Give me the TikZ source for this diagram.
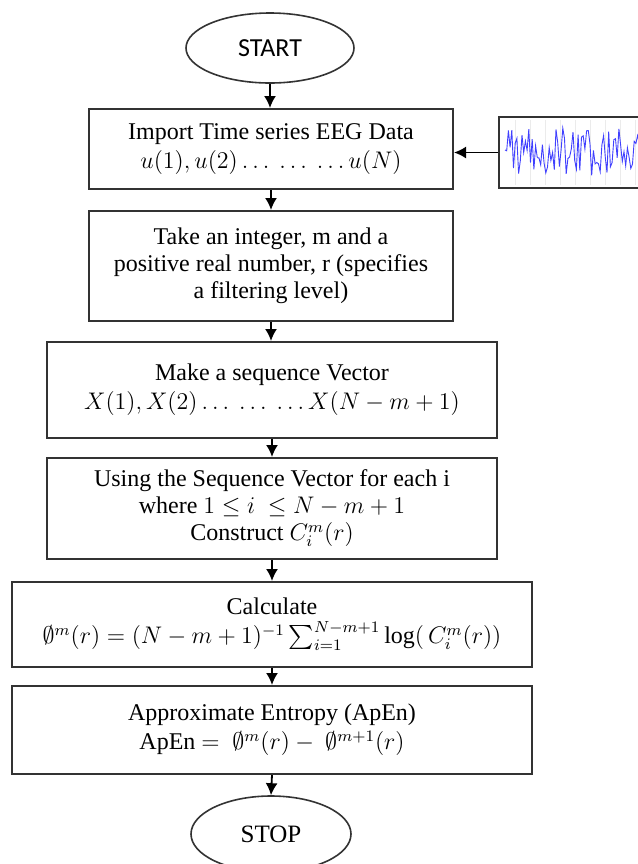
\documentclass[tikz,border=0pt]{standalone}
\usepackage{amsmath,amssymb}
\usepackage{fontspec}
\setmainfont{Liberation Serif}
\newfontfamily\calib{Carlito}
\usetikzlibrary{arrows.meta,shapes.geometric}
\begin{document}
\begin{tikzpicture}[x=0.5pt,y=-0.5pt,
  flowbox/.style={draw=black!80, line width=1pt, rectangle, align=center,
    font=\fontsize{12}{13.5}\selectfont, inner sep=0pt},
  term/.style={draw=black!80, line width=0.8pt, ellipse, inner sep=0pt},
  flowarrow/.style={draw=black, line width=0.9pt, -{Latex[length=6pt,width=6pt]}}]
\useasboundingbox (0,0) rectangle (638,864);
\clip (0,0) rectangle (638,864);
\fill[white] (0,0) rectangle (638,864);

\node[term, minimum width=84pt, minimum height=35pt, font=\calib\fontsize{13}{15}\selectfont] (start) at (270,48) {START};

\node[flowbox, minimum width=182pt, minimum height=40pt] (b1) at (271,149)
  {Import Time series EEG Data\\[1pt] $u(1), u(2) \dots\ \dots\ \dots u(N)$};

\node[draw=black!80, line width=1pt, rectangle, minimum width=73pt, minimum height=35.5pt, inner sep=0pt] (eeg) at (572,152.5) {};
\begin{scope}
\clip (499,117) rectangle (645,188);
\foreach \gx in {515,530,...,640} {\draw[black!8, line width=0.3pt] (\gx,120) -- (\gx,185);}
\pgfmathsetseed{5}
\draw[blue!75, line width=0.45pt] (505,150) \foreach \i in {1,...,80} { -- ({505+1.7*\i},{152+24*rand}) };
\end{scope}

\node[flowbox, minimum width=182pt, minimum height=55pt] (b2) at (271,266)
  {Take an integer, m and a\\ positive real number, r (specifies\\ a filtering level)};

\node[flowbox, minimum width=225pt, minimum height=48pt] (b3) at (272,390)
  {Make a sequence Vector\\[1pt] $X(1), X(2) \dots\ \dots\ \dots X(N-m+1)$};

\node[flowbox, minimum width=225pt, minimum height=50.5pt] (b4) at (272,508.5)
  {Using the Sequence Vector for each i\\ where $1 \le i\ \le N-m+1$\\ Construct $C_i^m(r)$};

\node[flowbox, minimum width=260pt, minimum height=42.5pt] (b5) at (272,624.5)
  {Calculate\\[1pt] $\emptyset^m(r) = (N-m+1)^{-1}\sum_{i=1}^{N-m+1}\log(\,C_i^m(r))$};

\node[flowbox, minimum width=260pt, minimum height=44pt] (b6) at (272,730)
  {Approximate Entropy (ApEn)\\[1pt] ApEn $=\ \emptyset^m(r) -\ \emptyset^{m+1}(r)$};

\node[term, minimum width=80pt, minimum height=38pt, font=\fontsize{12.5}{14}\selectfont] (stop) at (271,834) {STOP};

\draw[flowarrow] (start.south) -- (start.south |- b1.north);
\draw[flowarrow] (eeg.west) -- (eeg.west -| b1.east);
\draw[flowarrow] (b1.south) -- (b2.north);
\draw[flowarrow] (b2.south) -- (b2.south |- b3.north);
\draw[flowarrow] (b3.south) -- (b4.north);
\draw[flowarrow] (b4.south) -- (b4.south |- b5.north);
\draw[flowarrow] (b5.south) -- (b6.north);
\draw[flowarrow] (b6.south) -- (stop.north);
\end{tikzpicture}
\end{document}
